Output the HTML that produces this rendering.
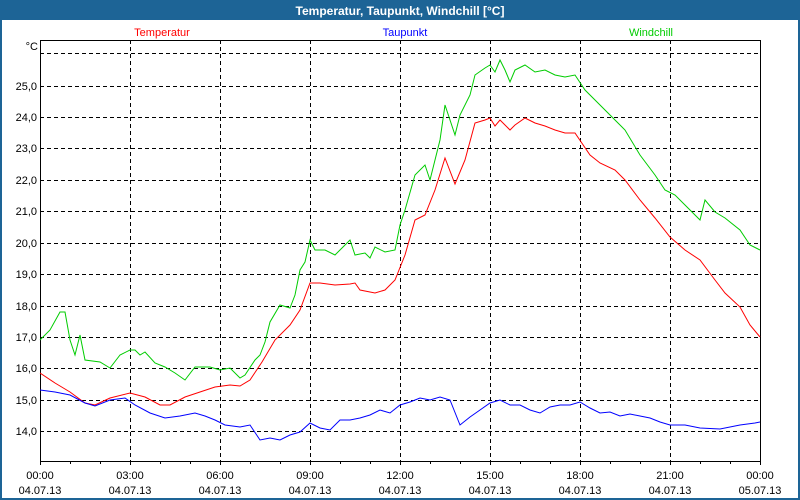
<!DOCTYPE html>
<html><head><meta charset="utf-8"><style>
html,body{margin:0;padding:0;background:#fff}
svg{display:block;font-family:"Liberation Sans",sans-serif}
</style></head><body>
<svg width="800" height="500" xmlns="http://www.w3.org/2000/svg">
<rect x="0" y="0" width="800" height="500" fill="#1d6496"/>
<rect x="2" y="20" width="796" height="478" fill="#fff"/>
<text x="400" y="15" fill="#fff" font-size="12" font-weight="bold" text-anchor="middle">Temperatur, Taupunkt, Windchill [°C]</text>
<text x="162" y="36" fill="#f00" font-size="11" text-anchor="middle">Temperatur</text>
<text x="405" y="36" fill="#00f" font-size="11" text-anchor="middle">Taupunkt</text>
<text x="651" y="36" fill="#0c0" font-size="11" text-anchor="middle">Windchill</text>
<g stroke="#000" stroke-dasharray="4,3" stroke-width="1">
<line x1="40" x2="760" y1="53.5" y2="53.5"/><line x1="40" x2="760" y1="86.5" y2="86.5"/><line x1="40" x2="760" y1="117.5" y2="117.5"/><line x1="40" x2="760" y1="148.5" y2="148.5"/><line x1="40" x2="760" y1="180.5" y2="180.5"/><line x1="40" x2="760" y1="211.5" y2="211.5"/><line x1="40" x2="760" y1="243.5" y2="243.5"/><line x1="40" x2="760" y1="274.5" y2="274.5"/><line x1="40" x2="760" y1="306.5" y2="306.5"/><line x1="40" x2="760" y1="337.5" y2="337.5"/><line x1="40" x2="760" y1="368.5" y2="368.5"/><line x1="40" x2="760" y1="400.5" y2="400.5"/><line x1="40" x2="760" y1="431.5" y2="431.5"/>
<line x1="130.5" x2="130.5" y1="40" y2="461"/><line x1="220.5" x2="220.5" y1="40" y2="461"/><line x1="310.5" x2="310.5" y1="40" y2="461"/><line x1="400.5" x2="400.5" y1="40" y2="461"/><line x1="490.5" x2="490.5" y1="40" y2="461"/><line x1="580.5" x2="580.5" y1="40" y2="461"/><line x1="670.5" x2="670.5" y1="40" y2="461"/>
</g>
<rect x="40.5" y="40.5" width="720" height="421" fill="none" stroke="#000"/>
<g stroke="#000"><path d="M40.5 461v4M70.5 461v3M100.5 461v3M130.5 461v4M160.5 461v3M190.5 461v3M220.5 461v4M250.5 461v3M280.5 461v3M310.5 461v4M340.5 461v3M370.5 461v3M400.5 461v4M430.5 461v3M460.5 461v3M490.5 461v4M520.5 461v3M550.5 461v3M580.5 461v4M610.5 461v3M640.5 461v3M670.5 461v4M700.5 461v3M730.5 461v3M760.5 461v4"/></g>
<g font-size="11" fill="#000" text-anchor="end">
<text x="38" y="50">°C</text>
<text x="37" y="90">25,0</text><text x="37" y="121">24,0</text><text x="37" y="152">23,0</text><text x="37" y="184">22,0</text><text x="37" y="215">21,0</text><text x="37" y="247">20,0</text><text x="37" y="278">19,0</text><text x="37" y="310">18,0</text><text x="37" y="341">17,0</text><text x="37" y="372">16,0</text><text x="37" y="404">15,0</text><text x="37" y="435">14,0</text>
</g>
<g font-size="11" fill="#000" text-anchor="middle">
<text x="40" y="479">00:00</text><text x="130" y="479">03:00</text><text x="220" y="479">06:00</text><text x="310" y="479">09:00</text><text x="400" y="479">12:00</text><text x="490" y="479">15:00</text><text x="580" y="479">18:00</text><text x="670" y="479">21:00</text><text x="760" y="479">00:00</text>
<text x="40" y="494">04.07.13</text><text x="130" y="494">04.07.13</text><text x="220" y="494">04.07.13</text><text x="310" y="494">04.07.13</text><text x="400" y="494">04.07.13</text><text x="490" y="494">04.07.13</text><text x="580" y="494">04.07.13</text><text x="670" y="494">04.07.13</text><text x="760" y="494">05.07.13</text>
</g>
<g fill="none" stroke-width="1">
<polyline stroke="#0c0" points="40,340 50,330 60,312 65,312 70,340 75,355 80,335 85,360 100,362 110,368 120,355 130,350 135,350 140,355 145,352 155,363 165,367 175,373 185,380 195,367 210,367 220,370 230,368 240,378 245,375 255,360 260,355 265,342 270,322 280,305 290,308 295,295 300,270 305,262 310,240 315,250 325,250 335,255 345,245 350,240 355,255 365,253 370,258 375,247 385,252 395,250 400,225 405,210 415,175 425,165 430,180 440,140 445,105 455,135 460,115 470,95 475,75 485,68 490,65 495,72 500,60 505,70 510,82 515,70 525,65 535,72 545,70 555,75 565,77 575,75 585,90 595,100 610,115 625,130 640,155 655,175 665,190 675,195 690,210 700,220 705,200 715,212 725,218 740,230 750,245 760,250"/>
<polyline stroke="#f00" points="40,373 55,383 70,392 85,403 95,405 110,398 130,393 145,397 160,405 170,405 185,397 200,392 215,387 230,385 240,386 250,380 262,362 275,340 290,325 300,310 310,283 320,283 335,285 350,284 355,283 360,290 375,293 385,290 395,280 405,255 415,220 425,215 435,190 445,158 455,184 465,160 475,123 485,120 490,118 495,126 500,120 510,130 515,125 525,118 535,123 545,126 555,130 565,133 575,133 590,155 600,163 615,170 625,180 640,200 655,218 670,237 685,250 700,260 715,280 725,293 740,307 750,325 760,337"/>
<polyline stroke="#00f" points="40,390 55,392 70,395 85,403 95,406 110,400 125,398 135,405 150,413 165,418 180,416 195,413 205,416 215,420 225,425 240,427 250,425 260,440 270,438 280,440 290,435 300,432 310,423 320,428 330,430 340,420 350,420 360,418 370,415 380,410 390,413 400,405 410,402 420,398 430,400 440,397 450,400 460,425 470,417 480,410 490,403 500,400 510,405 520,405 530,410 540,413 550,407 560,405 570,405 580,402 590,408 600,413 610,412 620,416 630,414 640,416 650,418 660,422 670,425 685,425 700,428 720,429 740,425 755,423 760,422"/>
</g>
</svg>
</body></html>
